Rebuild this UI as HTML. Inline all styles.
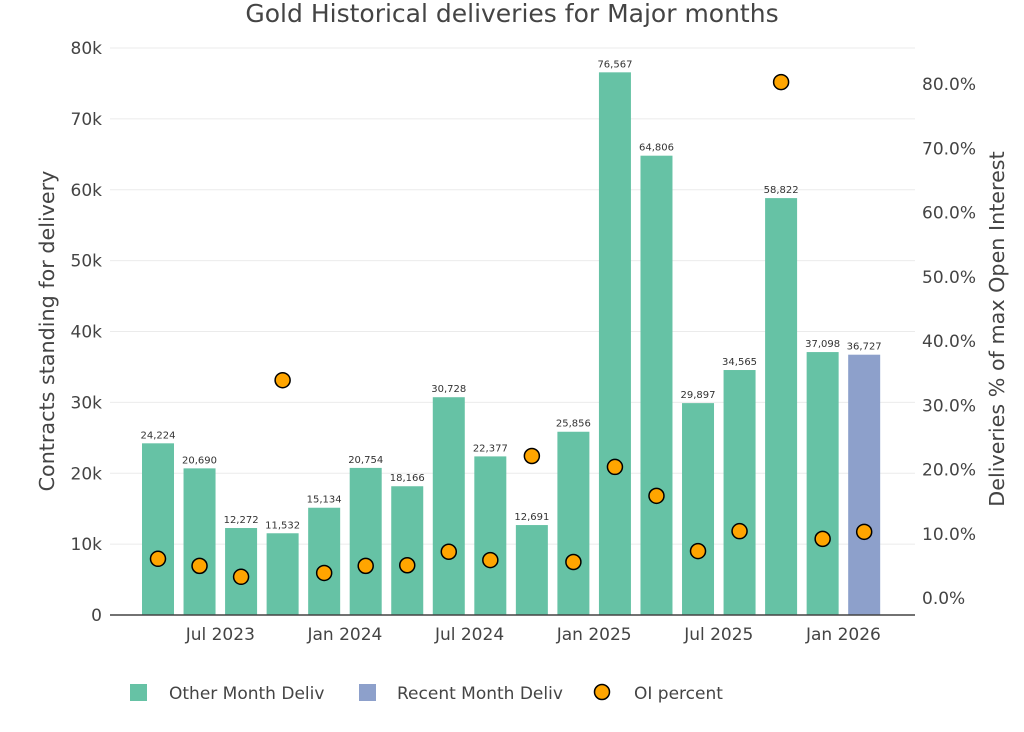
<!DOCTYPE html>
<html><head><meta charset="utf-8"><style>
body{margin:0;background:#fff;font-family:"DejaVu Sans","Liberation Sans",sans-serif;}
svg{display:block}
</style></head><body>
<svg id="chart" width="1024" height="732" xmlns="http://www.w3.org/2000/svg" font-family="DejaVu Sans, Liberation Sans, sans-serif">
<text x="512" y="22" text-anchor="middle" font-size="25" fill="#444">Gold Historical deliveries for Major months</text>
<g id="grid"></g><g id="bars"></g><g id="labels"></g><g id="dots"></g><g id="axes"></g>
<text transform="translate(54,331) rotate(-90)" text-anchor="middle" font-size="20.7" fill="#444">Contracts standing for delivery</text>
<text transform="translate(1004,329) rotate(-90)" text-anchor="middle" font-size="20.7" fill="#444">Deliveries % of max Open Interest</text>
<g font-size="17" fill="#444">
<rect x="130" y="684" width="17" height="17" fill="#66c2a5"/>
<text x="169" y="699">Other Month Deliv</text>
<rect x="359" y="684" width="17" height="17" fill="#8da0cb"/>
<text x="397" y="699">Recent Month Deliv</text>
<circle cx="602" cy="692" r="7.5" fill="#ffa500" stroke="#000" stroke-width="1.5"/>
<text x="634" y="699">OI percent</text>
</g>
</svg>
<script>
const months=["2023-04","2023-06","2023-08","2023-10","2023-12","2024-02","2024-04","2024-06","2024-08","2024-10","2024-12","2025-02","2025-04","2025-06","2025-08","2025-10","2025-12","2026-02"];
const deliveries=[24224,20690,12272,11532,15134,20754,18166,30728,22377,12691,25856,76567,64806,29897,34565,58822,37098,36727];
const oiPercent=[6.1,5.0,3.3,33.9,3.9,5.0,5.1,7.2,5.9,22.1,5.6,20.4,15.9,7.3,10.4,80.3,9.2,10.3];
const leftTicks=[0,10000,20000,30000,40000,50000,60000,70000,80000];
const leftTickLabels=["0","10k","20k","30k","40k","50k","60k","70k","80k"];
const rightTicks=[0,10,20,30,40,50,60,70,80];
const xTickMonths=["2023-07","2024-01","2024-07","2025-01","2025-07","2026-01"];
const xTickLabels=["Jul 2023","Jan 2024","Jul 2024","Jan 2025","Jul 2025","Jan 2026"];
const NS="http://www.w3.org/2000/svg";
function mi(s){const [y,m]=s.split("-").map(Number);return y*12+m-1;}
const m0=mi("2023-04");
function x(s){return 158+(mi(s)-m0)*20.77;}
function yL(v){return 615-v*(567/80000);}
function yR(p){return 598-p*6.425;}
function mk(t,a,parent){const e=document.createElementNS(NS,t);for(const k in a)e.setAttribute(k,a[k]);document.getElementById(parent).appendChild(e);return e;}
leftTicks.forEach((t,i)=>{
 if(t>0){const g=mk("line",{x1:110,x2:915,y1:yL(t),y2:yL(t),stroke:"#ebebeb","stroke-width":1},"grid");
 
 }
 const tx=mk("text",{x:102,y:yL(t)+6,"text-anchor":"end","font-size":17,fill:"#444"},"axes");tx.textContent=leftTickLabels[i];
 
 
});
rightTicks.forEach(t=>{
 const tx=mk("text",{x:922,y:yR(t)+6,"font-size":17,fill:"#444"},"axes");tx.textContent=t.toFixed(1)+"%";
 
 
});
xTickMonths.forEach((m,i)=>{
 const tx=mk("text",{x:x(m),y:640,"text-anchor":"middle","font-size":17,fill:"#444"},"axes");tx.textContent=xTickLabels[i];
 
 
});
const ax=mk("line",{x1:110,x2:915,y1:615,y2:615,stroke:"#444","stroke-width":1.5},"axes");


months.forEach((m,i)=>{
 const cx=x(m),v=deliveries[i];
 const last=i===months.length-1;
 const b=mk("rect",{x:cx-16,y:yL(v),width:32,height:615-yL(v),fill:last?"#8da0cb":"#66c2a5"},"bars");
 
 
 const l=mk("text",{x:cx,y:yL(v)-5,"text-anchor":"middle","font-size":10,fill:"#333"},"labels");
 l.textContent=v.toLocaleString("en-US");
 
 
 const d=mk("circle",{cx:cx,cy:yR(oiPercent[i]),r:7.5,fill:"#ffa500",stroke:"#000","stroke-width":1.5},"dots");
 
 
});
</script>
</body></html>
